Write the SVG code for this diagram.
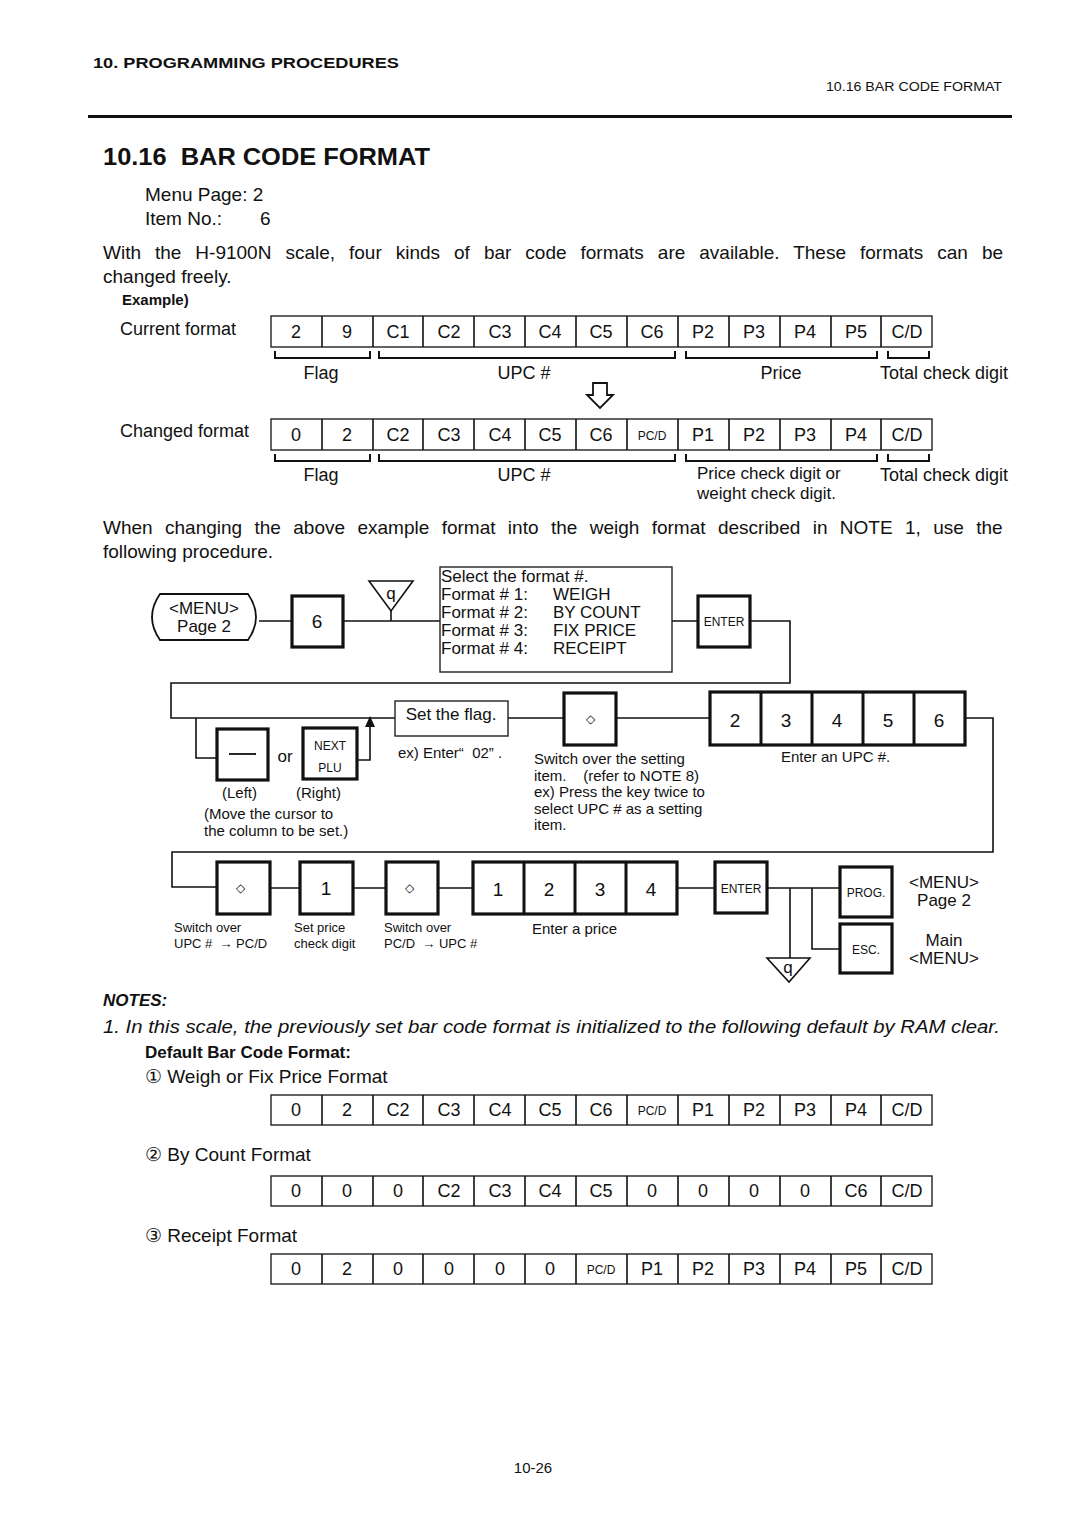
<svg xmlns="http://www.w3.org/2000/svg" width="1080" height="1528" viewBox="0 0 1080 1528">
<style>
text{font-family:"Liberation Sans",Arial,sans-serif;fill:#111}
.c{text-anchor:middle}
.cell{font-size:18px;text-anchor:middle}
.sm{font-size:12px;text-anchor:middle}
.t{fill:#fff;stroke:#222;stroke-width:1.4}
.k{fill:#fff;stroke:#111;stroke-width:3.2}
.ln{fill:none;stroke:#111;stroke-width:1.6}
.br{fill:none;stroke:#111;stroke-width:2}
.p{font-size:19px}
.cap{font-size:15px}
.cap2{font-size:13px}
</style>
<rect width="1080" height="1528" fill="#fff"/>

<!-- header -->
<text x="93" y="68" font-size="15" font-weight="bold" textLength="306" lengthAdjust="spacingAndGlyphs">10. PROGRAMMING PROCEDURES</text>
<text x="826" y="91" font-size="12" textLength="176" lengthAdjust="spacingAndGlyphs">10.16 BAR CODE FORMAT</text>
<rect x="88" y="115" width="924" height="3" fill="#111"/>
<text x="103" y="165" font-size="24" font-weight="bold" textLength="327" lengthAdjust="spacingAndGlyphs" xml:space="preserve">10.16  BAR CODE FORMAT</text>
<text x="145" y="201" class="p">Menu Page: 2</text>
<text x="145" y="225" class="p">Item No.:</text>
<text x="260" y="225" class="p">6</text>
<text x="103" y="259" class="p" word-spacing="8.7">With the H-9100N scale, four kinds of bar code formats are available. These formats can be</text>
<text x="103" y="283" class="p">changed freely.</text>
<text x="122" y="305" font-size="15" font-weight="bold">Example)</text>

<!-- Current format -->
<g id="current-format">
<text x="120" y="335" font-size="18">Current format</text>
<rect class="t" x="271" y="316" width="661" height="31"/>
<path class="ln" stroke-width="1.3" d="M322,316V347M373,316V347M423,316V347M474,316V347M525,316V347M576,316V347M627,316V347M678,316V347M729,316V347M780,316V347M831,316V347M881,316V347"/>
<g class="cell">
<text x="296" y="338">2</text><text x="347" y="338">9</text><text x="398" y="338">C1</text><text x="449" y="338">C2</text><text x="500" y="338">C3</text><text x="550" y="338">C4</text><text x="601" y="338">C5</text><text x="652" y="338">C6</text><text x="703" y="338">P2</text><text x="754" y="338">P3</text><text x="805" y="338">P4</text><text x="856" y="338">P5</text><text x="907" y="338">C/D</text>
</g>
<path class="br" d="M275,351V358H370V351M379,351V358H675V351M686,351V358H877V351M888,351V358H929V351"/>
<text x="321" y="379" class="c" font-size="18">Flag</text>
<text x="524" y="379" class="c" font-size="18">UPC #</text>
<text x="781" y="379" class="c" font-size="18">Price</text>
<text x="944" y="379" class="c" font-size="18">Total check digit</text>
</g>

<path id="down-arrow" fill="#fff" stroke="#111" stroke-width="1.8" d="M593,383H607V395H613L600,408L587,395H593Z"/>

<!-- Changed format -->
<g id="changed-format">
<text x="120" y="437" font-size="18">Changed format</text>
<rect class="t" x="271" y="419" width="661" height="31"/>
<path class="ln" stroke-width="1.3" d="M322,419V450M373,419V450M423,419V450M474,419V450M525,419V450M576,419V450M627,419V450M678,419V450M729,419V450M780,419V450M831,419V450M881,419V450"/>
<g class="cell">
<text x="296" y="441">0</text><text x="347" y="441">2</text><text x="398" y="441">C2</text><text x="449" y="441">C3</text><text x="500" y="441">C4</text><text x="550" y="441">C5</text><text x="601" y="441">C6</text><text x="652" y="440" font-size="12">PC/D</text><text x="703" y="441">P1</text><text x="754" y="441">P2</text><text x="805" y="441">P3</text><text x="856" y="441">P4</text><text x="907" y="441">C/D</text>
</g>
<path class="br" d="M275,454V461H370V454M379,454V461H675V454M686,454V461H877V454M888,454V461H929V454"/>
<text x="321" y="481" class="c" font-size="18">Flag</text>
<text x="524" y="481" class="c" font-size="18">UPC #</text>
<text x="697" y="479" font-size="17">Price check digit or</text>
<text x="697" y="499" font-size="17">weight check digit.</text>
<text x="944" y="481" class="c" font-size="18">Total check digit</text>
</g>

<text x="103" y="534" class="p" word-spacing="7.1">When changing the above example format into the weigh format described in NOTE 1, use the</text>
<text x="103" y="558" class="p">following procedure.</text>

<!-- connectors -->
<g id="connectors" class="ln">
<path d="M259,621H292M343,621H440M391,621V611M672,621H698M750,621H790V683H171V718H395"/>
<path d="M196,718V758H217M357,760H370V724"/>
<path d="M508,718H564M616,718H710M965,718H993V852H172V887H217"/>
<path d="M270,888H300M353,888H386M438,888H473M677,888H715M767,888H840M790,888V958M812,888V949H840"/>
</g>
<path d="M370,716L365,727H375Z" fill="#111"/>

<!-- flow nodes -->
<g id="menu-page2">
<path fill="#fff" stroke="#111" stroke-width="1.8" d="M160,594H248Q264,617 248,640H160Q144,617 160,594Z"/>
<text x="204" y="614" class="c" font-size="17">&lt;MENU&gt;</text>
<text x="204" y="632" class="c" font-size="17">Page 2</text>
</g>
<g id="key-6"><rect class="k" x="292" y="596" width="51" height="51"/><text x="317" y="628" class="c" font-size="19">6</text></g>
<g id="q-top"><path fill="#fff" stroke="#111" stroke-width="1.6" d="M369,581H413L391,611Z"/><text x="391" y="599" class="c" font-size="17">q</text></g>
<g id="format-box">
<rect class="t" x="440" y="567" width="232" height="105"/>
<text x="441" y="582" font-size="17">Select the format #.</text>
<text x="441" y="600" font-size="17">Format # 1:</text><text x="553" y="600" font-size="17">WEIGH</text>
<text x="441" y="618" font-size="17">Format # 2:</text><text x="553" y="618" font-size="17">BY COUNT</text>
<text x="441" y="636" font-size="17">Format # 3:</text><text x="553" y="636" font-size="17">FIX PRICE</text>
<text x="441" y="654" font-size="17">Format # 4:</text><text x="553" y="654" font-size="17">RECEIPT</text>
</g>
<g id="enter-1"><rect class="k" x="698" y="596" width="52" height="51"/><text x="724" y="626" class="sm">ENTER</text></g>

<g id="key-left"><rect class="k" x="217" y="729" width="51" height="51"/><path d="M229,754H256" stroke="#111" stroke-width="1.8"/></g>
<text x="285" y="762" class="c" font-size="17">or</text>
<g id="key-next-plu"><rect class="k" x="303" y="728" width="54" height="51"/><text x="330" y="750" class="sm" font-size="13">NEXT</text><text x="330" y="772" class="sm" font-size="13">PLU</text></g>
<text x="222" y="798" class="cap">(Left)</text>
<text x="296" y="798" class="cap">(Right)</text>
<text x="204" y="819" class="cap">(Move the cursor to</text>
<text x="204" y="836" class="cap">the column to be set.)</text>

<g id="set-flag"><rect class="t" x="395" y="701" width="113" height="35"/><text x="451" y="720" class="c" font-size="17">Set the flag.</text></g>
<text x="398" y="758" class="cap" xml:space="preserve">ex) Enter“  02” .</text>

<g id="key-switch-1"><rect class="k" x="564" y="693" width="52" height="52"/><text x="590" y="723" class="sm" font-size="11">◇</text></g>
<text x="534" y="764" class="cap">Switch over the setting</text>
<text x="534" y="781" class="cap" xml:space="preserve">item.    (refer to NOTE 8)</text>
<text x="534" y="797" class="cap">ex) Press the key twice to</text>
<text x="534" y="814" class="cap">select UPC # as a setting</text>
<text x="534" y="830" class="cap">item.</text>

<g id="upc-keys">
<rect class="k" x="710" y="692" width="255" height="53"/>
<path stroke="#111" stroke-width="3" d="M761,692V745M812,692V745M863,692V745M914,692V745"/>
<g class="c" font-size="19"><text x="735" y="727">2</text><text x="786" y="727">3</text><text x="837" y="727">4</text><text x="888" y="727">5</text><text x="939" y="727">6</text></g>
</g>
<text x="781" y="762" class="cap">Enter an UPC #.</text>

<g id="key-switch-2"><rect class="k" x="217" y="862" width="53" height="52"/><text x="240" y="892" class="sm" font-size="11">◇</text></g>
<g id="key-1"><rect class="k" x="300" y="862" width="53" height="52"/><text x="326" y="895" class="c" font-size="19">1</text></g>
<g id="key-switch-3"><rect class="k" x="386" y="862" width="52" height="52"/><text x="409" y="892" class="sm" font-size="11">◇</text></g>
<g id="price-keys">
<rect class="k" x="473" y="862" width="204" height="52"/>
<path stroke="#111" stroke-width="3" d="M524,862V914M575,862V914M626,862V914"/>
<g class="c" font-size="19"><text x="498" y="896">1</text><text x="549" y="896">2</text><text x="600" y="896">3</text><text x="651" y="896">4</text></g>
</g>
<g id="enter-2"><rect class="k" x="715" y="862" width="52" height="51"/><text x="741" y="893" class="sm">ENTER</text></g>
<g id="key-prog"><rect class="k" x="840" y="867" width="52" height="50"/><text x="866" y="897" class="sm">PROG.</text></g>
<g id="key-esc"><rect class="k" x="840" y="924" width="52" height="49"/><text x="866" y="954" class="sm" font-size="13">ESC.</text></g>
<g id="q-bottom"><path fill="#fff" stroke="#111" stroke-width="1.6" d="M767,958H810L789,982Z"/><text x="788" y="973" class="c" font-size="17">q</text></g>

<text x="944" y="888" class="c" font-size="17">&lt;MENU&gt;</text>
<text x="944" y="906" class="c" font-size="17">Page 2</text>
<text x="944" y="946" class="c" font-size="17">Main</text>
<text x="944" y="964" class="c" font-size="17">&lt;MENU&gt;</text>

<text x="174" y="932" class="cap2">Switch over</text>
<text x="174" y="948" class="cap2" xml:space="preserve">UPC #  → PC/D</text>
<text x="294" y="932" class="cap2">Set price</text>
<text x="294" y="948" class="cap2">check digit</text>
<text x="384" y="932" class="cap2">Switch over</text>
<text x="384" y="948" class="cap2" xml:space="preserve">PC/D  → UPC #</text>
<text x="532" y="934" class="cap">Enter a price</text>

<!-- notes -->
<text x="103" y="1006" font-size="17" font-weight="bold" font-style="italic">NOTES:</text>
<text x="103" y="1033" font-size="18" font-style="italic" textLength="897" lengthAdjust="spacingAndGlyphs">1. In this scale, the previously set bar code format is initialized to the following default by RAM clear.</text>
<text x="145" y="1058" font-size="17" font-weight="bold">Default Bar Code Format:</text>
<text x="145" y="1083" class="p">① Weigh or Fix Price Format</text>

<g id="default-weigh">
<rect class="t" x="271" y="1095" width="661" height="30"/>
<path class="ln" stroke-width="1.3" d="M322,1095V1125M373,1095V1125M423,1095V1125M474,1095V1125M525,1095V1125M576,1095V1125M627,1095V1125M678,1095V1125M729,1095V1125M780,1095V1125M831,1095V1125M881,1095V1125"/>
<g class="cell">
<text x="296" y="1116">0</text><text x="347" y="1116">2</text><text x="398" y="1116">C2</text><text x="449" y="1116">C3</text><text x="500" y="1116">C4</text><text x="550" y="1116">C5</text><text x="601" y="1116">C6</text><text x="652" y="1115" font-size="12">PC/D</text><text x="703" y="1116">P1</text><text x="754" y="1116">P2</text><text x="805" y="1116">P3</text><text x="856" y="1116">P4</text><text x="907" y="1116">C/D</text>
</g>
</g>

<text x="145" y="1161" class="p">② By Count Format</text>
<g id="default-count">
<rect class="t" x="271" y="1176" width="661" height="30"/>
<path class="ln" stroke-width="1.3" d="M322,1176V1206M373,1176V1206M423,1176V1206M474,1176V1206M525,1176V1206M576,1176V1206M627,1176V1206M678,1176V1206M729,1176V1206M780,1176V1206M831,1176V1206M881,1176V1206"/>
<g class="cell">
<text x="296" y="1197">0</text><text x="347" y="1197">0</text><text x="398" y="1197">0</text><text x="449" y="1197">C2</text><text x="500" y="1197">C3</text><text x="550" y="1197">C4</text><text x="601" y="1197">C5</text><text x="652" y="1197">0</text><text x="703" y="1197">0</text><text x="754" y="1197">0</text><text x="805" y="1197">0</text><text x="856" y="1197">C6</text><text x="907" y="1197">C/D</text>
</g>
</g>

<text x="145" y="1242" class="p">③ Receipt Format</text>
<g id="default-receipt">
<rect class="t" x="271" y="1254" width="661" height="30"/>
<path class="ln" stroke-width="1.3" d="M322,1254V1284M373,1254V1284M423,1254V1284M474,1254V1284M525,1254V1284M576,1254V1284M627,1254V1284M678,1254V1284M729,1254V1284M780,1254V1284M831,1254V1284M881,1254V1284"/>
<g class="cell">
<text x="296" y="1275">0</text><text x="347" y="1275">2</text><text x="398" y="1275">0</text><text x="449" y="1275">0</text><text x="500" y="1275">0</text><text x="550" y="1275">0</text><text x="601" y="1274" font-size="12">PC/D</text><text x="652" y="1275">P1</text><text x="703" y="1275">P2</text><text x="754" y="1275">P3</text><text x="805" y="1275">P4</text><text x="856" y="1275">P5</text><text x="907" y="1275">C/D</text>
</g>
</g>

<text x="533" y="1473" class="c" font-size="15">10-26</text>
</svg>
